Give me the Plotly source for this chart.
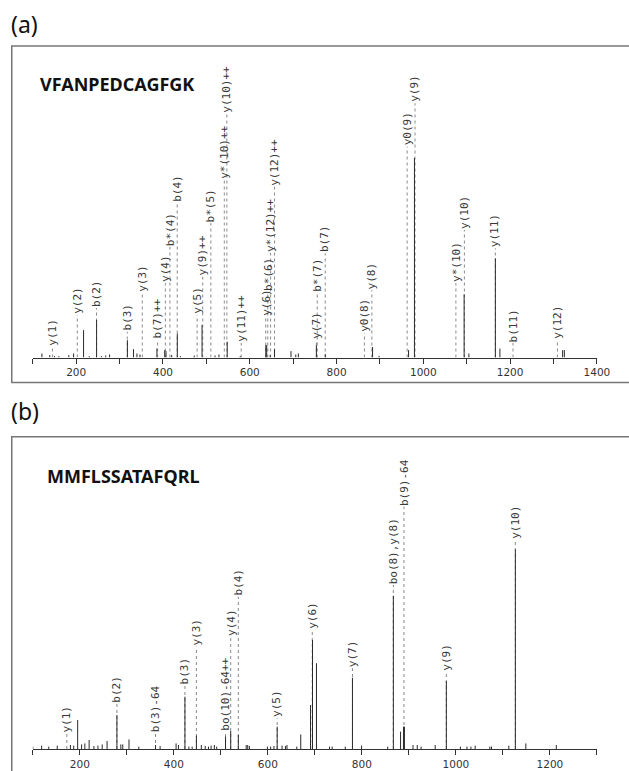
import plotly.graph_objects as go

W, H = 629, 771

# ---------------- Panel (a): VFANPEDCAGFGK ----------------
seq_a = "VFANPEDCAGFGK"
mz_a = [121, 139, 150, 160, 183, 194, 217, 230, 247, 258, 268, 277, 318, 332, 340, 347,
        386, 404, 407, 420, 433, 440, 472, 490, 520, 529, 548, 578, 637, 639, 647, 657,
        695, 706, 712, 753.5, 774, 883, 898, 966, 979.5, 1094, 1105, 1166, 1176.5, 1321, 1325]
int_a = [2.0, 1.2, 0.7, 0.7, 1.2, 2.0, 13.7, 0.7, 18.8, 0.7, 1.0, 1.5, 8.7, 4.2, 2.0, 1.5,
         4.5, 3.7, 3.2, 1.2, 12.0, 0.7, 1.0, 16.3, 1.0, 1.5, 7.9, 0.7, 6.2, 6.2, 1.2, 4.2,
         3.2, 1.5, 2.0, 6.2, 1.7, 5.3, 0.8, 3.7, 100, 31.7, 2.0, 49.7, 4.5, 3.7, 3.7]

lab_a = ["y(1)", "y(2)", "b(2)", "b(3)", "y(3)", "b(7)++", "y(4)", "b*(4)", "b(4)", "y(5)",
         "y(9)++", "b*(5)", "y*(10)++", "y(10)++", "y(11)++", "y(6)", "b*(6)", "y*(12)++",
         "y(12)++", "y(7)", "b*(7)", "b(7)", "y0(8)", "y(8)", "y0(9)", "y(9)", "y*(10)",
         "y(10)", "y(11)", "b(11)", "y(12)"]
lab_mz_a = [145.2, 202.5, 246.8, 317.7, 352.3, 387.7, 405.5, 416, 432.8, 478.7,
            491.6, 510.3, 541.3, 547.2, 580.3, 636.8, 641.5, 648, 657.1, 753.5,
            755.5, 773.9, 864.2, 881.4, 962.7, 980.8, 1075, 1094.6, 1166, 1206.6, 1309]
lab_h_a = [5.4, 21.3, 24.8, 12.9, 32.3, 8.8, 37.3, 55.5, 77.4, 21.3,
           40.5, 67.4, 89.0, 122.4, 7.3, 20.5, 33.0, 52.4, 85.6, 8.8,
           32.3, 52.2, 12.3, 33.8, 105.7, 127.4, 37.3, 63.9, 54.7, 7.3, 8.8]

# ---------------- Panel (b): MMFLSSATAFQRL ----------------
seq_b = "MMFLSSATAFQRL"
mz_b = [100, 118.8, 134, 152, 180, 187, 195.4, 203.8, 210.7, 219.8, 230, 238.6, 247.6, 258,
        278.9, 287.3, 291.4, 304.6, 325.5, 361, 370.8, 404.8, 409.8, 423.6, 432, 439, 448,
        458.5, 466.8, 473.7, 479.3, 486.2, 491.2, 510, 521, 537.2, 553.9, 557.2, 560.8,
        599, 606, 613, 619.8, 630.3, 637.4, 640.7, 661.6, 670, 690.8, 695, 703.4, 731.3,
        736.8, 764.7, 780, 799.4, 855, 867, 882.3, 888.5, 890.6, 908.8, 917.8, 926, 956,
        979.7, 1009.6, 1023.6, 1032, 1041, 1072.2, 1075.8, 1112.6, 1126.5, 1148.8, 1213.6]
int_b = [1.2, 1.7, 1.2, 1.7, 2.0, 1.7, 14.5, 2.3, 2.8, 4.5, 1.5, 1.7, 2.3, 4.0,
         17.0, 2.3, 2.3, 4.8, 1.2, 2.0, 1.5, 2.8, 2.0, 26.2, 1.2, 1.2, 6.7,
         2.0, 1.5, 1.2, 1.7, 2.0, 1.2, 6.2, 9.0, 7.0, 2.0, 2.0, 1.5,
         1.2, 1.2, 1.5, 11.2, 1.7, 1.5, 2.0, 1.2, 7.3, 22.0, 54.6, 43.0, 1.2,
         1.2, 1.2, 35.7, 1.7, 1.2, 76.8, 8.7, 11.2, 11.2, 2.0, 2.0, 1.2, 2.0,
         34.0, 1.2, 1.2, 1.2, 1.7, 1.2, 1.2, 1.7, 100, 2.8, 2.0]

lab_b = ["y(1)", "b(2)", "b(3)-64", "b(3)", "y(3)", "bo(10)-64++", "y(4)", "b(4)", "y(5)",
         "y(6)", "y(7)", "bo(8),y(8)", "b(9)-64", "y(9)", "y(10)"]
lab_mz_b = [172.4, 278.9, 361, 423.6, 448, 510, 521, 537.2, 619.8,
            694.5, 780, 867, 889.5, 979.7, 1126.5]
lab_h_b = [7.9, 22.9, 7.9, 32.1, 51.3, 8.7, 56.3, 76.3, 15.4,
           59.6, 40.5, 82.2, 121.5, 38.7, 104.8]

ticks_a = list(range(100, 1401, 100))
ticks_b = list(range(100, 1301, 100))


def px_y(py):
    return 1 - py / H


PEAK_COLOR = "#2a2a2a"
DASH_COLOR = "#8a8a8a"
LABEL_COLOR = "#383838"

fig = go.Figure()


def stick_xy(xs, ys):
    X, Y = [], []
    for x, y in zip(xs, ys):
        X += [x, x, None]
        Y += [0, y, None]
    return X, Y


for (mz, it, lab, lmz, lh, xa, ya) in [
    (mz_a, int_a, lab_a, lab_mz_a, lab_h_a, "x", "y"),
    (mz_b, int_b, lab_b, lab_mz_b, lab_h_b, "x2", "y2"),
]:
    dx, dy = stick_xy(lmz, lh)
    fig.add_trace(go.Scatter(x=dx, y=dy, mode="lines", xaxis=xa, yaxis=ya,
                             line=dict(color=DASH_COLOR, width=1, dash="3px,3px"),
                             hoverinfo="skip", showlegend=False))
    px_, py_ = stick_xy(mz, it)
    fig.add_trace(go.Scatter(x=px_, y=py_, mode="lines", xaxis=xa, yaxis=ya,
                             line=dict(color=PEAK_COLOR, width=1),
                             hoverinfo="skip", showlegend=False))
    for t, x, y in zip(lab, lmz, lh):
        fig.add_annotation(x=x, y=y, xref=xa, yref=ya, text=t, showarrow=False,
                           textangle=-90, xanchor="center", yanchor="bottom",
                           borderpad=0,
                           font=dict(family="DejaVu Sans Mono", size=11, color=LABEL_COLOR))

xdom = [33.5 / W, 609.5 / W]
yrange = [0, 300 / 1.995]

axis_common = dict(showline=True, linecolor="#333", linewidth=1, ticks="outside",
                   ticklen=5, tickcolor="#333", tickwidth=1, showgrid=False, zeroline=False,
                   tickfont=dict(family="DejaVu Sans", size=10.5, color="#333"),
                   tickmode="array")

fig.update_layout(
    width=W, height=H, margin=dict(l=0, r=0, t=0, b=0),
    paper_bgcolor="white", plot_bgcolor="white",
    xaxis=dict(domain=xdom, range=[100, 1400], anchor="y", tickvals=ticks_a,
               ticktext=[str(v) if v % 200 == 0 else "" for v in ticks_a], **axis_common),
    yaxis=dict(domain=[px_y(357.5), px_y(57.5)], range=yrange, visible=False, anchor="x"),
    xaxis2=dict(domain=xdom, range=[100, 1300], anchor="y2", tickvals=ticks_b,
                ticktext=[str(v) if v % 200 == 0 else "" for v in ticks_b], **axis_common),
    yaxis2=dict(domain=[px_y(749), px_y(449)], range=yrange, visible=False, anchor="x2"),
)

# panel frames
fig.add_shape(type="rect", xref="paper", yref="paper", x0=12 / W, x1=1.05,
              y0=px_y(382.5), y1=px_y(46), line=dict(color="#777", width=1.5))
fig.add_shape(type="rect", xref="paper", yref="paper", x0=12 / W, x1=1.05,
              y0=-0.05, y1=px_y(436.7), line=dict(color="#777", width=1.5))

# panel letters and sequences
for txt, x, y in [("(a)", 9, 24), ("(b)", 9, 411)]:
    fig.add_annotation(text=txt, xref="paper", yref="paper", x=x / W, y=px_y(y),
                       xanchor="left", yanchor="middle", showarrow=False,
                       font=dict(family="Noto Sans", size=23, color="#111"))
for txt, x, y in [(seq_a, 39, 83.5), (seq_b, 45.5, 476)]:
    fig.add_annotation(text="<b>" + txt + "</b>", xref="paper", yref="paper", x=x / W,
                       y=px_y(y), xanchor="left", yanchor="middle", showarrow=False,
                       font=dict(family="Noto Sans", size=18, color="#111"))

fig.write_html("out.html")
